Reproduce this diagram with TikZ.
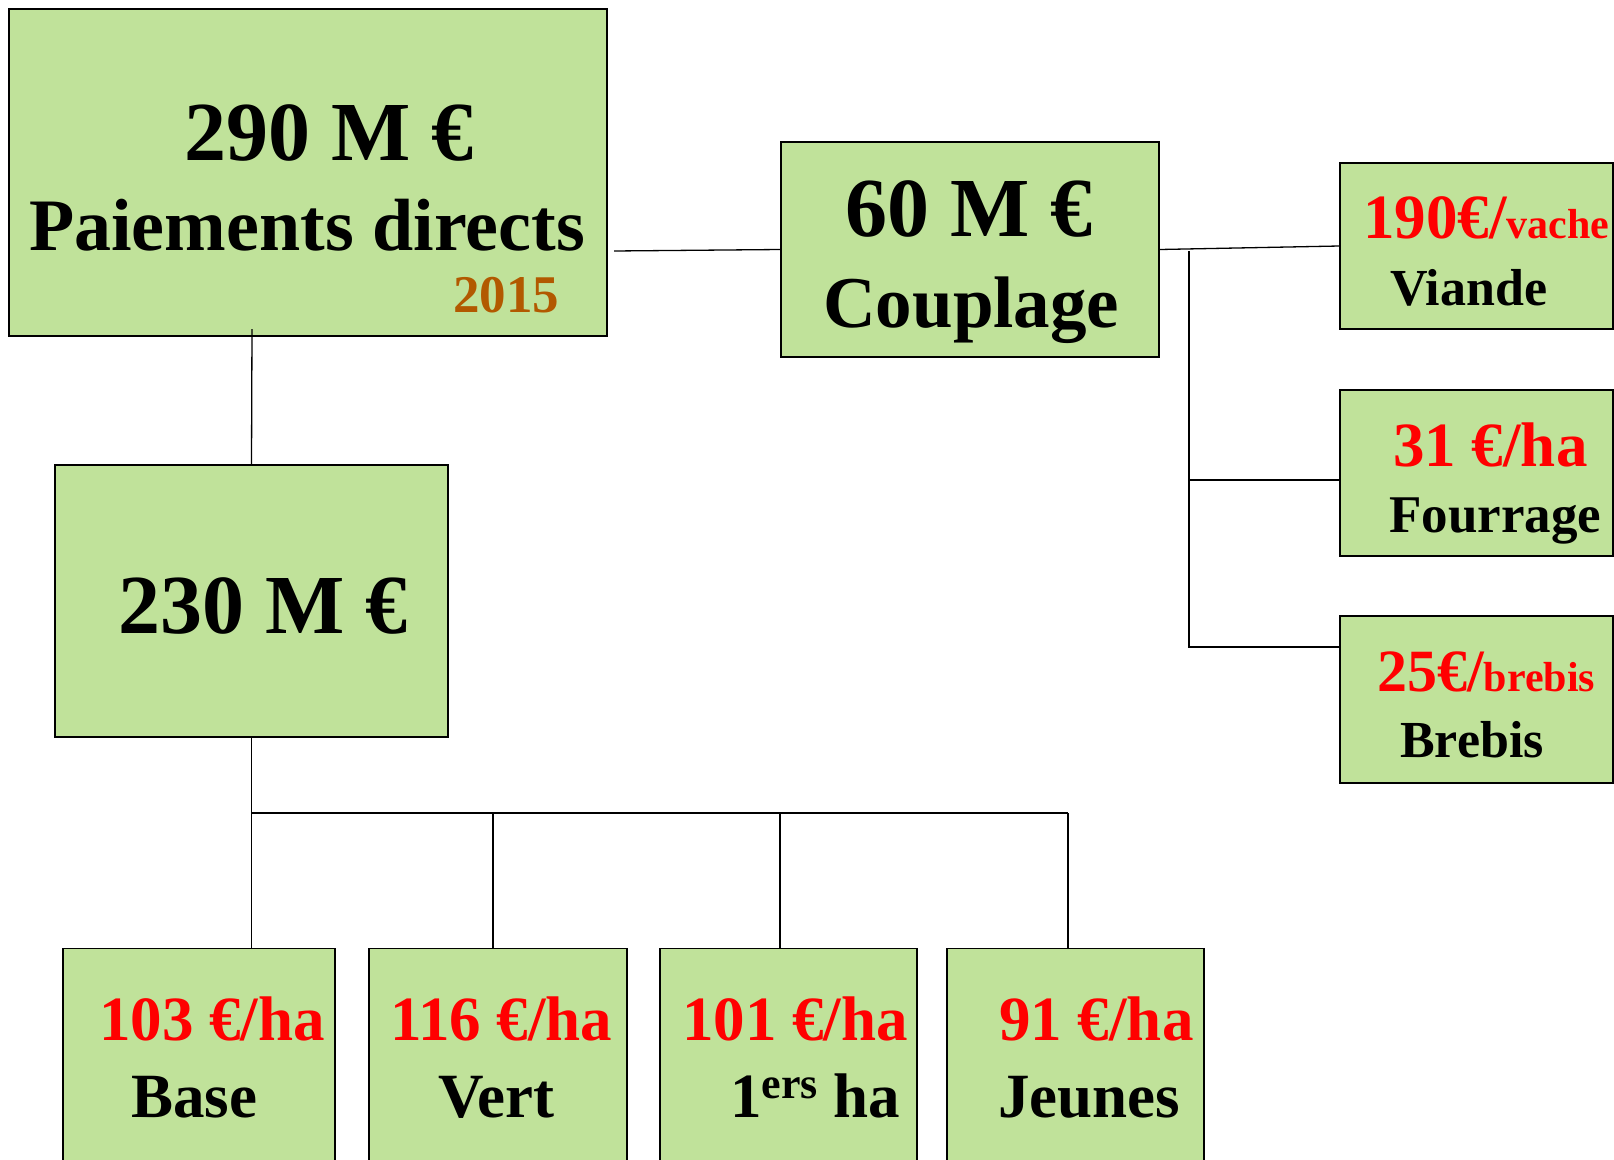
\documentclass[tikz,border=0pt]{standalone}
\usepackage{fontspec}
\setmainfont{Liberation Serif}

\definecolor{boxgreen}{RGB}{192,226,154}
\definecolor{yearbrown}{RGB}{178,89,0}
\newcommand{\fs}[1]{\fontsize{#1}{#1}\selectfont}
\tikzset{
  box/.style={shape=rectangle,draw=black,fill=boxgreen,line width=1.5pt,inner sep=0pt},
  lbl/.style={inner sep=0pt,anchor=base west,font=\bfseries},
  link/.style={draw=black,line width=1.3pt},
}

\begin{document}
\begin{tikzpicture}[x=1pt,y=-1pt]
\useasboundingbox (0,0) rectangle (1614,1159);
\clip (0,0) rectangle (1614,1159);

\node[box,minimum width=598pt,minimum height=327pt] (A) at (308,172.5) {};
\node[box,minimum width=378pt,minimum height=215pt] (B) at (970,249.5) {};
\node[box,minimum width=393pt,minimum height=272pt] (C) at (251.5,601) {};
\node[box,minimum width=273pt,minimum height=166pt] (V) at (1476.5,246) {};
\node[box,minimum width=273pt,minimum height=166pt] (F) at (1476.5,473) {};
\node[box,minimum width=273pt,minimum height=167pt] (Br) at (1476.5,699.5) {};
\node[box,minimum width=272pt,minimum height=227pt] (Base) at (199,1062) {};
\node[box,minimum width=258pt,minimum height=227pt] (Vert) at (498,1062) {};
\node[box,minimum width=257pt,minimum height=227pt] (Prem) at (788.5,1062) {};
\node[box,minimum width=257pt,minimum height=227pt] (Jeunes) at (1075.5,1062) {};

\coordinate (aout) at (614,251);
\coordinate (adown) at (252,329);
\coordinate (ttop) at (1189,251);
\coordinate (tmid) at (1189,480);
\coordinate (tbot) at (1189,647);
\coordinate (bus) at (252,813);

\path[link] (aout) -- (B.west);
\path[link] (B.east) -- (V.west);
\path[link] (ttop) -- (tbot) -- (tbot -| Br.west);
\path[link] (tmid) -- (tmid -| F.west);
\path[link] (adown) -- (C.north);
\path[link] (C.south) -- (Base.north -| C.south);
\path[link] (bus) -- (1068,813);
\foreach \n/\x in {Vert/493,Prem/780,Jeunes/1068}
  \path[link] (\x,813) -- (\n.north -| \x,813);

\node[lbl] (t290) at (184,160) {\fs{84}290 M €};
\node[lbl] (tpd) at (29,250) {\fs{74}Paiements directs};
\node[lbl,text=yearbrown] (tyear) at (453,312) {\fs{53}2015};
\node[lbl] (t60) at (845,236) {\fs{84}60 M €};
\node[lbl] (tcoup) at (823,327) {\fs{73}Couplage};
\node[lbl] (t230) at (118,633) {\fs{84}230 M €};

\node[lbl,text=red] (tvache) at (1363,238) {\fs{63}190€/\fs{42}vache};
\node[lbl] (tviande) at (1390,305) {\fs{52}Viande};
\node[lbl,text=red] (tfha) at (1393,466) {\fs{63}31 €/ha};
\node[lbl] (tfour) at (1389,532) {\fs{53}Fourrage};
\node[lbl,text=red] (tbreb) at (1377,691) {\fs{60}25€/\fs{42}brebis};
\node[lbl] (tbrebis) at (1400,757) {\fs{52}Brebis};

\node[lbl,text=red] (tbha) at (99,1040) {\fs{63}103 €/ha};
\node[lbl,text=red] (tvha) at (390,1040) {\fs{63}116 €/ha};
\node[lbl,text=red] (tpha) at (682,1040) {\fs{63}101 €/ha};
\node[lbl,text=red] (tjha) at (999,1040) {\fs{63}91 €/ha};
\node[lbl] (tbase) at (131,1117) {\fs{63}Base};
\node[lbl] (tvert) at (438,1117) {\fs{63}Vert};
\node[lbl] (tprem) at (730,1117) {\fs{63}1\raisebox{19pt}{\fs{44}ers} ha};
\node[lbl] (tjeun) at (998,1117) {\fs{63}Jeunes};
\end{tikzpicture}
\end{document}
